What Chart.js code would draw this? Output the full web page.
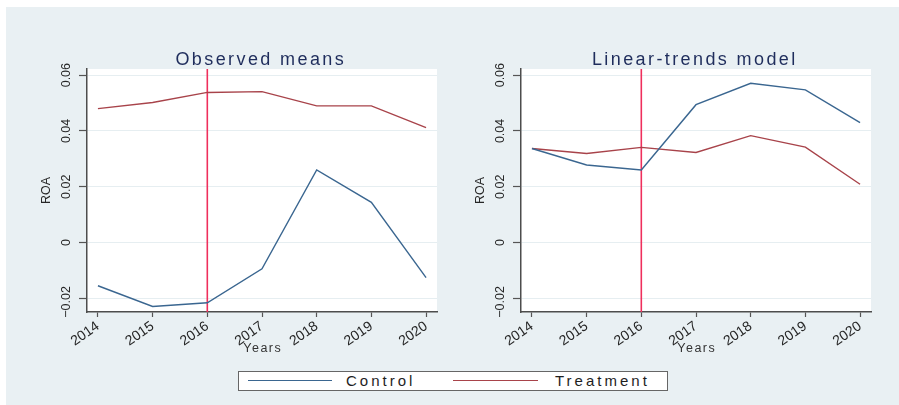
<!DOCTYPE html>
<html>
<head>
<meta charset="utf-8">
<script src="https://cdn.jsdelivr.net/npm/chart.js@4.4.1/dist/chart.umd.min.js"></script>
<style>
  html, body { margin: 0; padding: 0; background: #ffffff; width: 899px; height: 405px; overflow: hidden; }
  #wrap { position: absolute; left: 6px; top: 7px; width: 893px; height: 398px; background: #e9f0f3; }
  #c1 { position: absolute; left: 0; top: 0; }
  #c2 { position: absolute; left: 444px; top: 0; }
  #legend { position: absolute; left: 232px; top: 364px; width: 428px; height: 18px; border: 1px solid #666; background: #fff;
            font-family: "Liberation Sans", Arial, sans-serif; font-size: 15px; color: #1e1e1e; }
  #legend .ln { position: absolute; top: 8px; height: 0; border-top: 1.5px solid; }
  #legend .tx { position: absolute; top: 0; line-height: 18px; letter-spacing: 3px; }
</style>
</head>
<body>
<div id="wrap">
  <canvas id="c1" width="444" height="353"></canvas>
  <canvas id="c2" width="449" height="353"></canvas>
  <div id="legend"></div>
</div>
<script>
// ---- data ----
const years = [2014, 2015, 2016, 2017, 2018, 2019, 2020];
const obsControl   = [-0.0155, -0.0229, -0.0216, -0.0094, 0.0260, 0.0144, -0.0126];
const obsTreatment = [0.0480, 0.0502, 0.0538, 0.0541, 0.0490, 0.0490, 0.0412];
const ltControl    = [0.0337, 0.0278, 0.0260, 0.0494, 0.0571, 0.0547, 0.0430];
const ltTreatment  = [0.0337, 0.0319, 0.0341, 0.0323, 0.0383, 0.0342, 0.0209];
const yTicks       = [-0.02, 0, 0.02, 0.04, 0.06];
const yTickLabels  = ['\u22120.02', '0', '0.02', '0.04', '0.06'];
const eventYear    = 2016;
const seriesNames  = ['Control', 'Treatment'];
const panelTitles  = ['Observed means', 'Linear-trends model'];
const xTitle = 'Years';
const yTitle = 'ROA';
const yMin = -0.0249, yMax = 0.0622;
const xMin = 2013.8, xMax = 2020.2;

// ---- styles ----
const FONT = '"Liberation Sans", Arial, sans-serif';
const colControl = '#3a6690';
const colTreatment = '#a8434a';
const colEvent = '#ef2f5c';

const panelPlugin = {
  id: 'panel',
  beforeDraw(chart) {
    const { ctx, chartArea: a } = chart;
    ctx.save();
    ctx.fillStyle = '#ffffff';
    ctx.fillRect(a.left, a.top, a.right - a.left, a.bottom - a.top);
    ctx.restore();
  },
  afterDraw(chart) {
    const { ctx, chartArea: a } = chart;
    const y = chart.scales.y;
    const title = chart.options.plugins.panel.title;
    ctx.save();
    ctx.fillStyle = '#262626';
    ctx.font = '12.5px ' + FONT;
    ctx.textAlign = 'center';
    ctx.textBaseline = 'middle';
    yTicks.forEach((v, i) => {
      const lab = yTickLabels[i];
      const py = y.getPixelForValue(v);
      let shift = 0;
      if (lab.startsWith('\u2212')) shift = -ctx.measureText('\u2212').width / 2;
      ctx.save();
      ctx.translate(a.left - 20, py);
      ctx.rotate(-Math.PI / 2);
      ctx.fillText(lab, shift, 0);
      ctx.restore();
    });
    // y title
    ctx.save();
    ctx.translate(a.left - 40, (a.top + a.bottom) / 2);
    ctx.rotate(-Math.PI / 2);
    ctx.fillText(yTitle, 0, 0);
    ctx.restore();
    // x title
    ctx.letterSpacing = '1.5px';
    ctx.fillStyle = '#333';
    ctx.font = '12.5px ' + FONT;
    ctx.fillText(xTitle, (a.left + a.right) / 2 + 0.75, 341.5);
    // panel title
    ctx.font = '18px ' + FONT;
    ctx.fillStyle = '#1f2d5c';
    ctx.letterSpacing = '2.4px';
    ctx.textBaseline = 'alphabetic';
    ctx.fillText(title, (a.left + a.right) / 2 - 1.2, 58);
    ctx.restore();
  }
};

function makeChart(id, title, control, treatment, yAxisWidth, padRight) {
  const pts = arr => years.map((yr, i) => ({ x: yr, y: arr[i] }));
  return new Chart(document.getElementById(id), {
    type: 'line',
    data: {
      datasets: [
        { label: seriesNames[0], data: pts(control), borderColor: colControl, borderWidth: 1.4, pointRadius: 0, tension: 0, fill: false },
        { label: seriesNames[1], data: pts(treatment), borderColor: colTreatment, borderWidth: 1.4, pointRadius: 0, tension: 0, fill: false },
        { label: 'event', data: [{ x: eventYear, y: yMin }, { x: eventYear, y: yMax }], borderColor: colEvent, borderWidth: 1.6, pointRadius: 0, fill: false }
      ]
    },
    options: {
      responsive: false,
      animation: false,
      events: [],
      layout: { padding: { top: 62, right: padRight, left: 0, bottom: 0 } },
      plugins: { legend: { display: false }, tooltip: { enabled: false }, title: { display: false }, panel: { title } },
      scales: {
        x: {
          type: 'linear', min: xMin, max: xMax,
          afterBuildTicks: s => { s.ticks = years.map(v => ({ value: v })); },
          afterFit: s => { s.height = 48; },
          grid: { drawOnChartArea: false, drawTicks: true, tickLength: 5, tickColor: '#555', tickWidth: 1.2 },
          border: { color: '#4d4d4d', width: 1.5 },
          ticks: { autoSkip: false, minRotation: 35, maxRotation: 35, padding: 1, color: '#262626',
                   font: { size: 14, family: FONT }, callback: v => String(v) }
        },
        y: {
          type: 'linear', min: yMin, max: yMax,
          afterBuildTicks: s => { s.ticks = yTicks.map(v => ({ value: v })); },
          afterFit: s => { s.width = yAxisWidth; },
          grid: { color: '#e6eef1', lineWidth: 1, drawTicks: true, tickLength: 8, tickColor: '#555', tickWidth: 1.2 },
          border: { color: '#4d4d4d', width: 1.5 },
          ticks: { display: false }
        }
      }
    },
    plugins: [panelPlugin]
  });
}

makeChart('c1', panelTitles[0], obsControl, obsTreatment, 81, 13);
makeChart('c2', panelTitles[1], ltControl, ltTreatment, 71, 28);

// ---- legend ----
const legend = document.getElementById('legend');
const legendItems = [
  { name: seriesNames[0], color: colControl, lineLeft: 9, lineWidth: 84, textLeft: 107 },
  { name: seriesNames[1], color: colTreatment, lineLeft: 214, lineWidth: 85, textLeft: 316 }
];
legendItems.forEach(it => {
  const ln = document.createElement('div');
  ln.className = 'ln';
  ln.style.left = it.lineLeft + 'px';
  ln.style.width = it.lineWidth + 'px';
  ln.style.borderTopColor = it.color;
  legend.appendChild(ln);
  const tx = document.createElement('span');
  tx.className = 'tx';
  tx.style.left = it.textLeft + 'px';
  tx.textContent = it.name;
  legend.appendChild(tx);
});
</script>
</body>
</html>
